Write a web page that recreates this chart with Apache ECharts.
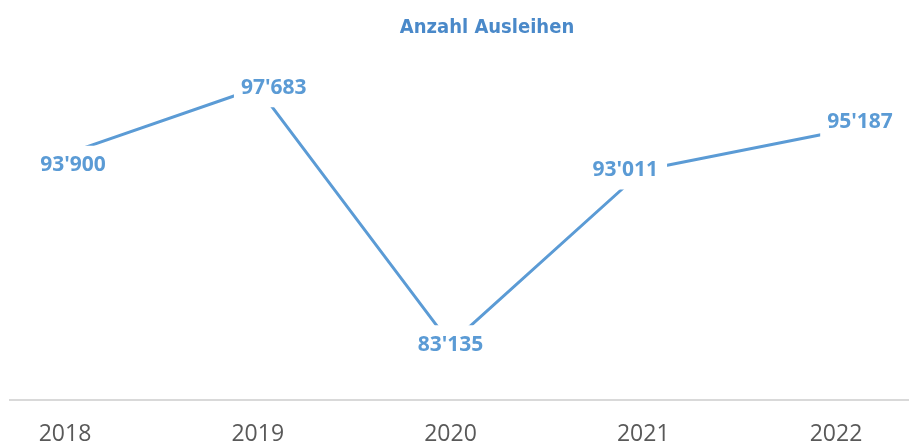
<!DOCTYPE html>
<html>
<head>
<meta charset="utf-8">
<script src="https://cdn.jsdelivr.net/npm/echarts@6/dist/echarts.min.js"></script>
<style>
  html, body { margin: 0; padding: 0; background: #fff; }
  #main { width: 909px; height: 446px; }
</style>
</head>
<body>
<div id="main"></div>
<script>
// Daten
var jahre = ["2018", "2019", "2020", "2021", "2022"];
var ausleihen = [93900, 97683, 83135, 93011, 95187];
// Label-Verschiebung pro Punkt (wie im Excel-Original manuell verschoben)
var labelOffsets = [[9, 11], [17, 0], [1, 1], [-17, 0], [25, -10]];

var blau = "#5b9bd5";

// 93900 -> 93'900
function tausender(v) {
  return String(v).replace(/\B(?=(\d{3})+(?!\d))/g, "'");
}

var myChart = echarts.init(document.getElementById("main"));

var option = {
  backgroundColor: "#fff",
  animation: false,
  title: {
    text: "Anzahl Ausleihen",
    left: 482,
    top: 13,
    textAlign: "center",
    textStyle: {
      fontFamily: "'DejaVu Sans Condensed', 'Open Sans', sans-serif",
      fontWeight: "bold",
      fontSize: 20,
      color: "#4a89c9"
    }
  },
  grid: {
    left: 65,
    right: 73,
    top: 47,
    bottom: 46
  },
  xAxis: {
    type: "category",
    data: jahre,
    boundaryGap: false,
    axisLine: { show: false },
    axisTick: { show: false },
    axisLabel: {
      margin: 24,
      fontFamily: "'Open Sans', sans-serif",
      fontSize: 23,
      lineHeight: 23,
      color: "#595959"
    }
  },
  yAxis: {
    type: "value",
    min: 80000,
    max: 100000,
    interval: 20000,
    show: false,
    splitLine: { show: false }
  },
  // x-Achsenlinie über die ganze Breite
  graphic: [
    {
      type: "line",
      shape: { x1: 9, y1: 400, x2: 909, y2: 400 },
      style: { stroke: "#d9d9d9", lineWidth: 2 },
      z: 0
    }
  ],
  series: [
    {
      type: "line",
      data: ausleihen.map(function (v, i) {
        return {
          value: v,
          label: { offset: labelOffsets[i] }
        };
      }),
      showSymbol: true,
      symbol: "circle",
      symbolSize: 0.1,
      lineStyle: { color: blau, width: 3 },
      itemStyle: { color: blau },
      label: {
        show: true,
        position: "inside",
        formatter: function (p) { return tausender(p.value); },
        fontFamily: "'Open Sans', sans-serif",
        fontWeight: "bold",
        fontSize: 21,
        lineHeight: 21,
        color: blau,
        opacity: 1,
        backgroundColor: "#fff",
        padding: [8, 9, 10, 7]
      }
    }
  ]
};

myChart.setOption(option);
</script>
</body>
</html>
